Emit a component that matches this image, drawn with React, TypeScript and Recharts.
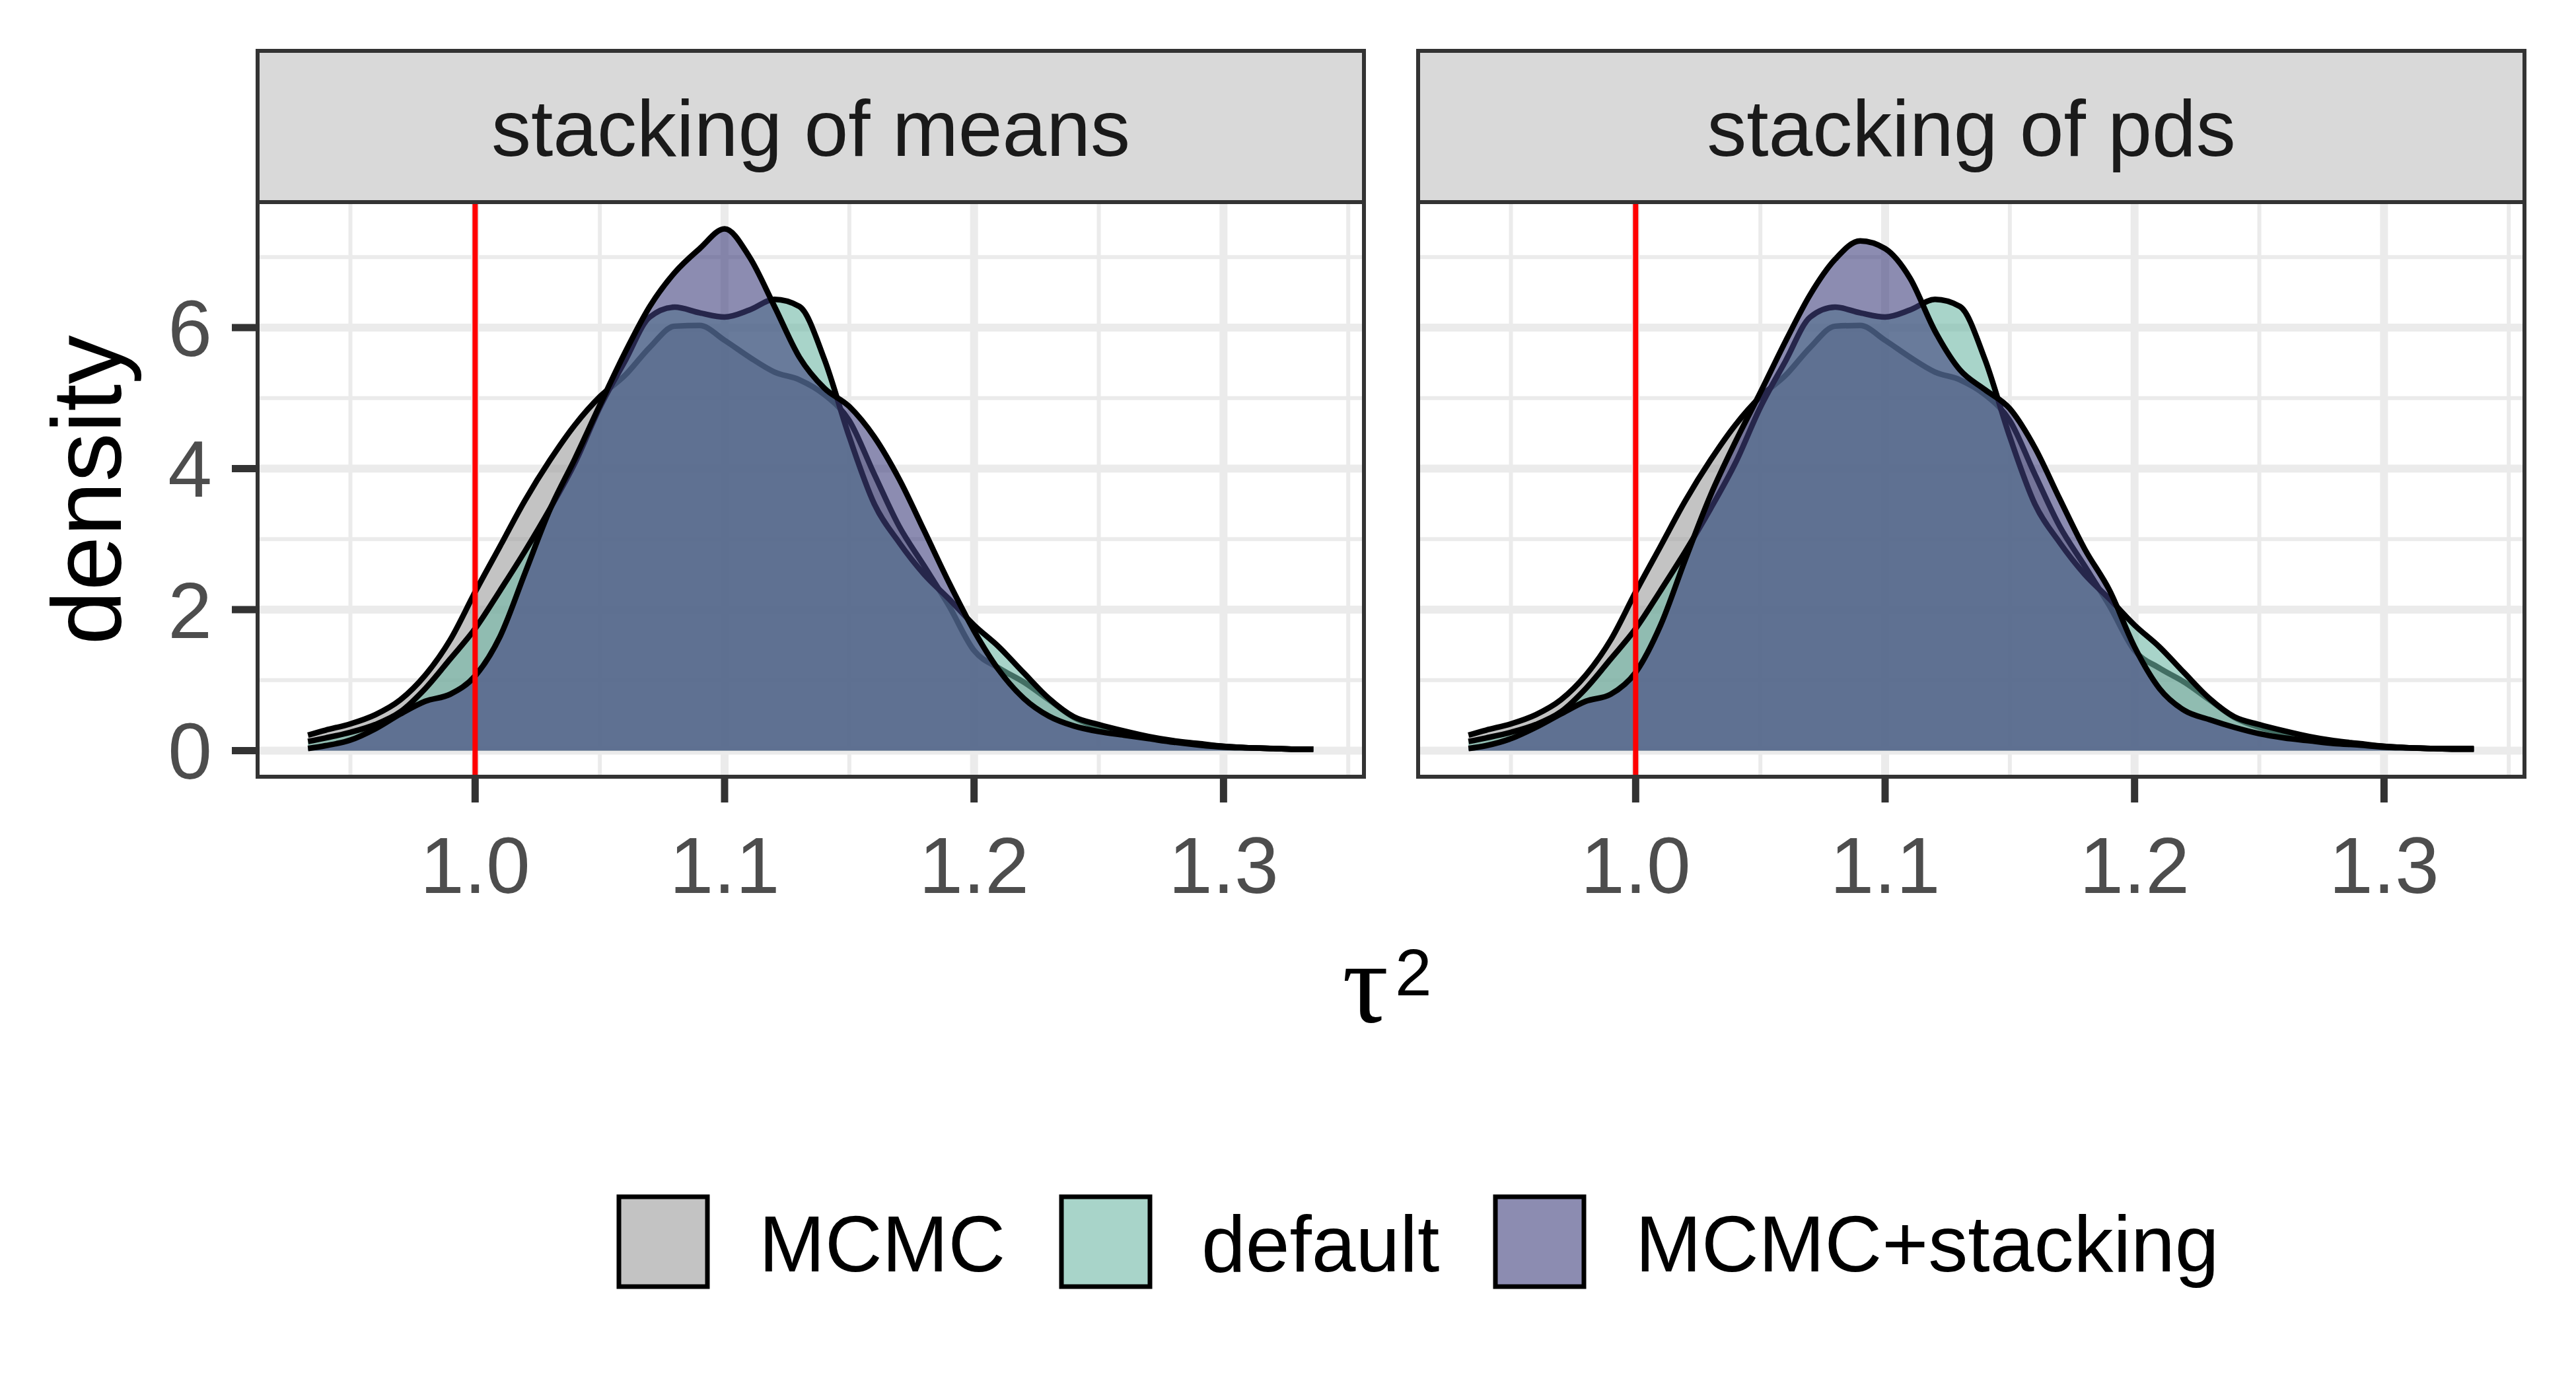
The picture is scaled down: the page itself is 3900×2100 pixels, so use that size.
import React from "react";
import {
  ComposedChart,
  Area,
  XAxis,
  YAxis,
  CartesianGrid,
  ReferenceLine,
} from "recharts";

// tau^2 grid the densities were read at
const tau = [
  0.933, 0.94, 0.95, 0.96, 0.97, 0.98, 0.99, 1.0, 1.01, 1.02, 1.03, 1.04, 1.05,
  1.06, 1.07, 1.08, 1.09, 1.1, 1.11, 1.12, 1.13, 1.14, 1.15, 1.16, 1.17, 1.18,
  1.19, 1.2, 1.21, 1.22, 1.23, 1.24, 1.25, 1.26, 1.27, 1.28, 1.29, 1.3, 1.31,
  1.32, 1.33, 1.336,
];

// same in both facets
const mcmc = [
  0.22, 0.29, 0.38, 0.51, 0.72, 1.07, 1.57, 2.25, 2.9, 3.55, 4.12, 4.62, 5.02,
  5.32, 5.72, 6.02, 6.03, 5.82, 5.58, 5.37, 5.26, 5.05, 4.68, 3.92, 3.18, 2.62,
  2.05, 1.42, 1.17, 0.97, 0.72, 0.47, 0.33, 0.25, 0.18, 0.13, 0.09, 0.06, 0.04,
  0.03, 0.02, 0.02,
];

const defaultFit = [
  0.13, 0.18, 0.26, 0.37, 0.55, 0.88, 1.3, 1.73, 2.27, 2.83, 3.43, 4.08, 4.87,
  5.52, 6.15, 6.29, 6.21, 6.15, 6.25, 6.4, 6.3, 5.55, 4.45, 3.5, 2.95, 2.5,
  2.15, 1.78, 1.47, 1.1, 0.74, 0.48, 0.37, 0.28, 0.2, 0.14, 0.1, 0.06, 0.04,
  0.03, 0.02, 0.02,
];

const stackMeans = [
  0.03, 0.07, 0.15, 0.31, 0.52, 0.7, 0.8, 1.06, 1.62, 2.52, 3.42, 4.14, 4.9,
  5.64, 6.3, 6.78, 7.12, 7.4, 7.0, 6.3, 5.58, 5.14, 4.88, 4.45, 3.85, 3.12,
  2.38, 1.7, 1.14, 0.74, 0.49, 0.35, 0.27, 0.22, 0.17, 0.12, 0.08, 0.05, 0.04,
  0.03, 0.02, 0.02,
];

const stackPds = [
  0.03, 0.07, 0.17, 0.33, 0.52, 0.7, 0.8, 1.11, 1.78, 2.72, 3.62, 4.38, 5.08,
  5.8, 6.47, 6.97, 7.23, 7.12, 6.7, 5.95, 5.4, 5.12, 4.85, 4.3, 3.57, 2.86,
  2.27, 1.47, 0.88, 0.57, 0.44, 0.33, 0.24, 0.18, 0.14, 0.1, 0.08, 0.05, 0.04,
  0.03, 0.03, 0.03,
];

const facetTitles = ["stacking of means", "stacking of pds"];
const seriesNames = ["MCMC", "default", "MCMC+stacking"];
const seriesFills = ["#9B9B9B", "#6EB7A5", "#3F3F7D"];
const seriesKeys = ["mcmc", "def", "stack"];

const xMajorTicks = [1.0, 1.1, 1.2, 1.3];
const xMinorTicks = [0.95, 1.05, 1.15, 1.25, 1.35];
const yMajorTicks = [0, 2, 4, 6];
const yMinorTicks = [1, 3, 5, 7];
const trueValue = 1.0;

const X_DOMAIN: [number, number] = [0.9128, 1.3563];
const Y_DOMAIN: [number, number] = [-0.37, 7.78];

const FONT = "'Liberation Sans', Arial, Helvetica, sans-serif";
const FILL_ALPHA = 0.6;

// layout (px)
const STRIP_TOP = 77;
const PLOT_TOP = 306;
const PLOT_BOTTOM = 1176;
const XAXIS_H = 200;
const CHART_H = PLOT_BOTTOM - PLOT_TOP + XAXIS_H;
const Y_AXIS_W = 390;
const panels = [
  { left: 390, right: 2065 },
  { left: 2147, right: 3822 },
];

const makeRows = (stack: number[]) =>
  tau.map((x, i) => ({ x, mcmc: mcmc[i], def: defaultFit[i], stack: stack[i] }));

const panelData = [makeRows(stackMeans), makeRows(stackPds)];

// grid positions go through the axis scale recharts hands the grid
const xGridAt = (values: number[]) => (args: any) => {
  const s = args?.xAxis?.scale;
  if (typeof s === "function") return values.map((v) => s(v));
  const { left, width } = args.offset;
  return values.map(
    (v) => left + ((v - X_DOMAIN[0]) / (X_DOMAIN[1] - X_DOMAIN[0])) * width
  );
};
const yGridAt = (values: number[]) => (args: any) => {
  const s = args?.yAxis?.scale;
  if (typeof s === "function") return values.map((v) => s(v));
  const { top, height } = args.offset;
  return values.map(
    (v) => top + ((Y_DOMAIN[1] - v) / (Y_DOMAIN[1] - Y_DOMAIN[0])) * height
  );
};

function Panel({ idx }: { idx: number }) {
  const showY = idx === 0;
  const p = panels[idx];
  const chartLeft = showY ? p.left - Y_AXIS_W : p.left;
  const width = p.right - chartLeft;
  return (
    <div
      style={{
        position: "absolute",
        left: chartLeft,
        top: PLOT_TOP,
        width,
        height: CHART_H,
      }}
    >
      <ComposedChart
        width={width}
        height={CHART_H}
        data={panelData[idx]}
        margin={{ top: 0, right: 0, bottom: 0, left: 0 }}
      >
        <CartesianGrid
          stroke="#EBEBEB"
          strokeWidth={6}
          verticalCoordinatesGenerator={xGridAt(xMinorTicks)}
          horizontalCoordinatesGenerator={yGridAt(yMinorTicks)}
        />
        <CartesianGrid
          stroke="#EBEBEB"
          strokeWidth={12}
          verticalCoordinatesGenerator={xGridAt(xMajorTicks)}
          horizontalCoordinatesGenerator={yGridAt(yMajorTicks)}
        />
        <XAxis
          dataKey="x"
          type="number"
          domain={X_DOMAIN}
          ticks={xMajorTicks}
          allowDataOverflow
          height={XAXIS_H}
          tickFormatter={(v: number) => v.toFixed(1)}
          tick={{ fontSize: 120, fill: "#4D4D4D", fontFamily: FONT }}
          stroke="#333333"
          tickLine={{ stroke: "#333333", strokeWidth: 11 }}
          axisLine={false}
          tickSize={39}
          tickMargin={52}
        />
        <YAxis
          type="number"
          domain={Y_DOMAIN}
          ticks={yMajorTicks}
          allowDataOverflow
          hide={!showY}
          width={Y_AXIS_W}
          tick={{ fontSize: 120, fill: "#4D4D4D", fontFamily: FONT }}
          stroke="#333333"
          tickLine={{ stroke: "#333333", strokeWidth: 11 }}
          axisLine={false}
          tickSize={39}
          tickMargin={30}
        />
        {seriesKeys.map((k, i) => (
          <Area
            key={k}
            type="monotone"
            dataKey={k}
            name={seriesNames[i]}
            fill={seriesFills[i]}
            fillOpacity={FILL_ALPHA}
            stroke="#000000"
            strokeWidth={8.5}
            baseValue={0}
            dot={false}
            activeDot={false}
            isAnimationActive={false}
          />
        ))}
        <ReferenceLine x={trueValue} stroke="#FF0000" strokeWidth={8} />
      </ComposedChart>
    </div>
  );
}

const legendKeyX = [937, 1607, 2264];
const KEY_W = 134;

export default function App() {
  return (
    <div
      style={{
        position: "absolute",
        left: 0,
        top: 0,
        width: 3900,
        height: 2100,
        background: "#FFFFFF",
        fontFamily: FONT,
        overflow: "hidden",
      }}
    >
      <Panel idx={0} />
      <Panel idx={1} />
      <svg
        width={3900}
        height={2100}
        style={{ position: "absolute", left: 0, top: 0, pointerEvents: "none" }}
      >
        {panels.map((p, i) => (
          <g key={i}>
            <rect
              x={p.left}
              y={STRIP_TOP}
              width={p.right - p.left}
              height={PLOT_TOP - STRIP_TOP}
              fill="#D9D9D9"
              stroke="#333333"
              strokeWidth={6}
            />
            <text
              x={(p.left + p.right) / 2}
              y={236}
              textAnchor="middle"
              fontSize={120}
              fill="#1A1A1A"
              fontFamily={FONT}
            >
              {facetTitles[i]}
            </text>
            <rect
              x={p.left}
              y={PLOT_TOP}
              width={p.right - p.left}
              height={PLOT_BOTTOM - PLOT_TOP}
              fill="none"
              stroke="#333333"
              strokeWidth={6}
            />
          </g>
        ))}
        <text
          x={183}
          y={742}
          transform="rotate(-90 183 742)"
          textAnchor="middle"
          fontSize={148}
          fill="#000000"
          fontFamily={FONT}
        >
          density
        </text>
        <text
          x={2032}
          y={1547}
          fontSize={175}
          fill="#000000"
          fontFamily="'Liberation Serif', 'DejaVu Serif', serif"
        >
          τ
        </text>
        <text x={2112} y={1507} fontSize={100} fill="#000000" fontFamily={FONT}>
          2
        </text>
        {seriesNames.map((name, i) => (
          <g key={name}>
            <rect
              x={legendKeyX[i]}
              y={1812}
              width={KEY_W}
              height={136}
              fill={seriesFills[i]}
              fillOpacity={FILL_ALPHA}
              stroke="#000000"
              strokeWidth={7}
            />
            <text
              x={legendKeyX[i] + KEY_W + 78}
              y={1925}
              fontSize={120}
              fill="#000000"
              fontFamily={FONT}
            >
              {name}
            </text>
          </g>
        ))}
      </svg>
    </div>
  );
}
